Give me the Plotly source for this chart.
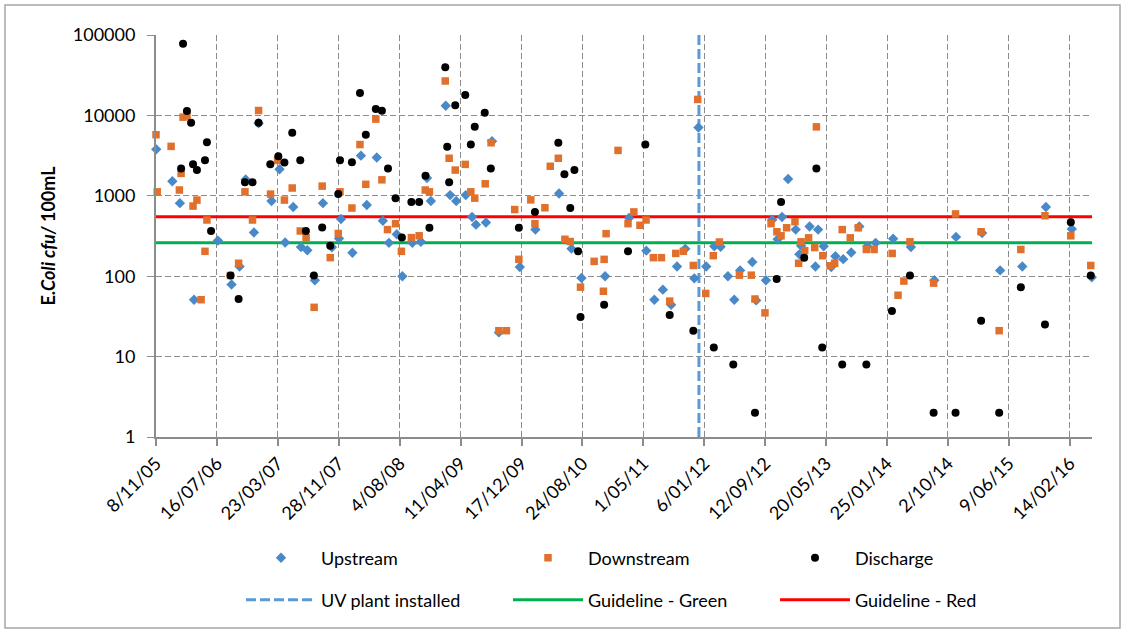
import pandas as pd
import plotly.graph_objects as go

# ---- data: Excel serial dates (days since 1899-12-30) and E. coli (cfu/100mL) ----
up_dates = [38665, 38731, 38762, 38820, 38918, 38974, 39007, 39032, 39066, 39085,
            39138, 39171, 39194, 39227, 39259, 39285, 39316, 39349, 39386, 39415,
            39423, 39470, 39505, 39529, 39570, 39595, 39620, 39652, 39675, 39716,
            39751, 39776, 39792, 39853, 39871, 39896, 39935, 39961, 39977, 40018,
            40043, 40071, 40157, 40221, 40318, 40369, 40410, 40507, 40605, 40676,
            40709, 40744, 40778, 40802, 40836, 40873, 40890, 40922, 40955, 40981,
            41011, 41037, 41061, 41111, 41127, 41167, 41193, 41215, 41233, 41258,
            41289, 41304, 41311, 41346, 41370, 41381, 41404, 41435, 41452, 41484,
            41517, 41550, 41583, 41617, 41689, 41762, 41858, 41947, 42054, 42128,
            42219, 42316, 42422, 42504]
up_vals = [3780, 1515, 810, 51, 277, 79, 132, 1600, 350, 8000,
           860, 2140, 263, 725, 230, 210, 89, 810, 229, 294,
           515, 196, 3160, 768, 3000, 490, 260, 332, 100, 260,
           268, 1660, 860, 13200, 1020, 860, 1020, 546, 438, 465,
           4760, 20, 130, 380, 1070, 220, 95, 100, 530, 208,
           51, 68, 44, 132, 219, 94, 7060, 132, 235, 232,
           100, 51, 118, 150, 50, 89, 505, 288, 546, 1620,
           380, 187, 240, 415, 132, 380, 235, 130, 177, 163,
           197, 415, 235, 260, 293, 230, 89, 308, 345, 118,
           132, 725, 387, 97]

down_dates = [38664, 38669, 38726, 38760, 38767, 38775, 38791, 38816, 38832, 38849,
              38865, 38873, 38969, 39003, 39029, 39060, 39085, 39134, 39163, 39191,
              39223, 39256, 39280, 39313, 39346, 39379, 39412, 39419, 39468, 39501,
              39525, 39566, 39591, 39614, 39647, 39671, 39712, 39744, 39769, 39786,
              39851, 39867, 39892, 39933, 39956, 39972, 40015, 40039, 40071, 40102,
              40136, 40153, 40202, 40219, 40260, 40282, 40315, 40342, 40364, 40406,
              40462, 40500, 40503, 40511, 40560, 40601, 40625, 40650, 40675, 40705,
              40738, 40772, 40797, 40828, 40869, 40887, 40920, 40951, 40976, 41058,
              41107, 41122, 41163, 41188, 41212, 41229, 41252, 41286, 41301, 41311,
              41326, 41342, 41367, 41374, 41400, 41431, 41449, 41480, 41513, 41546,
              41579, 41611, 41685, 41709, 41733, 41758, 41855, 41945, 42050, 42124,
              42213, 42312, 42418, 42500]
down_vals = [5750, 1120, 4120, 1180, 1900, 9500, 9800, 745, 885, 51,
             204, 500, 102, 145, 1120, 500, 11500, 1050, 2760, 885,
             1250, 365, 300, 41, 1320, 170, 340, 1120, 705, 4340,
             1390, 9000, 1580, 380, 450, 204, 302, 318, 1180, 1120,
             26800, 2930, 2090, 2460, 1120, 935, 1410, 4570, 21, 21,
             675, 162, 890, 450, 710, 2330, 2930, 288, 270, 73,
             153, 65, 162, 338, 3670, 450, 630, 430, 500, 170,
             170, 49, 192, 204, 136, 15800, 61, 180, 266, 103,
             103, 52, 35, 450, 357, 318, 400, 477, 145, 268,
             208, 300, 227, 7200, 180, 135, 145, 380, 300, 400,
             215, 215, 192, 58, 87, 268, 82, 595, 357, 21,
             215, 565, 318, 136]

dis_dates = [38767, 38775, 38791, 38808, 38816, 38832, 38865, 38873, 38890, 38970,
             39003, 39029, 39060, 39085, 39133, 39166, 39191, 39223, 39256, 39279,
             39312, 39346, 39379, 39412, 39419, 39468, 39501, 39525, 39566, 39591,
             39616, 39647, 39673, 39712, 39744, 39770, 39786, 39851, 39859, 39867,
             39892, 39933, 39956, 39972, 40013, 40038, 40153, 40219, 40315, 40340,
             40364, 40381, 40396, 40406, 40503, 40601, 40672, 40772, 40869, 40953,
             41033, 41122, 41211, 41229, 41324, 41374, 41398, 41480, 41579, 41684,
             41758, 41855, 41945, 42050, 42124, 42213, 42312, 42418, 42500]
dis_vals = [2190, 78000, 11350, 8100, 2460, 2090, 2760, 4620, 365, 102,
            52, 1475, 1475, 8100, 2460, 3100, 2600, 6100, 2760, 365,
            102, 402, 240, 1050, 2760, 2610, 19000, 5750, 12000, 11400,
            2190, 935, 302, 835, 835, 1770, 400, 39700, 4070, 1475,
            13400, 17900, 4350, 7200, 10800, 2190, 400, 630, 4570, 1860,
            705, 2090, 204, 31, 44, 204, 4340, 33, 21, 13,
            8, 2, 92, 835, 170, 2190, 13, 8, 8, 37,
            102, 2, 2, 28, 2, 73, 25, 470, 102]

uv_plant_date = 40892          # 15/12/2011
guideline_green = 260
guideline_red = 550

x_axis_start = 38664           # 8/11/05
x_axis_end = 42505
x_tick_step = 250
x_tick_labels = ["8/11/05", "16/07/06", "23/03/07", "28/11/07", "4/08/08",
                 "11/04/09", "17/12/09", "24/08/10", "1/05/11", "6/01/12",
                 "12/09/12", "20/05/13", "25/01/14", "2/10/14", "9/06/15",
                 "14/02/16"]
y_tick_vals = [1, 10, 100, 1000, 10000, 100000]
y_tick_labels = ["1", "10", "100", "1000", "10000", "100000"]


def to_dt(serial):
    return pd.to_datetime(pd.Series(serial), unit="D", origin="1899-12-30")


FONT = "Lato"
GRID = "#8c8c8c"
BLUE = "#4a89c8"
ORANGE = "#e0702b"

x0 = to_dt([x_axis_start])[0]
x1 = to_dt([x_axis_end])[0]
tick_vals = to_dt([x_axis_start + i * x_tick_step for i in range(len(x_tick_labels))])

fig = go.Figure()

# guideline / event lines (drawn first so markers sit on top)
fig.add_trace(go.Scatter(
    x=[to_dt([uv_plant_date])[0]] * 2, y=[y_tick_vals[0], y_tick_vals[-1]],
    mode="lines", name="UV plant installed", legend="legend2",
    line=dict(color="#5b9bd5", width=3, dash="10px,4px"), hoverinfo="skip"))
fig.add_trace(go.Scatter(
    x=[x0, x1], y=[guideline_green] * 2, mode="lines", name="Guideline - Green",
    legend="legend2", line=dict(color="#00b050", width=3), hoverinfo="skip"))
fig.add_trace(go.Scatter(
    x=[x0, x1], y=[guideline_red] * 2, mode="lines", name="Guideline - Red",
    legend="legend2", line=dict(color="#ff0000", width=3), hoverinfo="skip"))

fig.add_trace(go.Scatter(
    x=to_dt(up_dates), y=up_vals, mode="markers", name="Upstream", legend="legend",
    marker=dict(symbol="diamond", size=8, color=BLUE, line=dict(width=0)),
    cliponaxis=False))
fig.add_trace(go.Scatter(
    x=to_dt(down_dates), y=down_vals, mode="markers", name="Downstream", legend="legend",
    marker=dict(symbol="square", size=7.5, color=ORANGE, line=dict(width=0)),
    cliponaxis=False))
fig.add_trace(go.Scatter(
    x=to_dt(dis_dates), y=dis_vals, mode="markers", name="Discharge", legend="legend",
    marker=dict(symbol="circle", size=8, color="black", line=dict(width=0)),
    cliponaxis=False))

W, H = 1125, 633
ml, mr, mt, mb = 156, 33, 35, 196
pw, ph = W - ml - mr, H - mt - mb


def px_x(p):
    return (p - ml) / pw


def px_y(p):
    return (H - mb - p) / ph


legend_common = dict(
    orientation="h", xanchor="left", yanchor="middle",
    font=dict(family=FONT, size=18, color="black"),
    itemwidth=70, entrywidth=182, entrywidthmode="pixels",
    bgcolor="rgba(0,0,0,0)", itemclick=False, itemdoubleclick=False,
)

fig.update_layout(
    width=W, height=H,
    margin=dict(l=ml, r=mr, t=mt, b=mb, pad=0),
    paper_bgcolor="white", plot_bgcolor="white",
    font=dict(family=FONT, size=18, color="black"),
    showlegend=True,
    legend=dict(x=px_x(241), y=px_y(558), **legend_common),
    legend2=dict(x=px_x(241), y=px_y(600), **legend_common),
    xaxis=dict(
        type="date", range=[x0, x1],
        tickmode="array", tickvals=tick_vals, ticktext=x_tick_labels,
        tickangle=-45, tickfont=dict(family=FONT, size=18, color="black"),
        ticks="outside", ticklen=7, tickwidth=1.5, tickcolor=GRID,
        showline=True, linecolor=GRID, linewidth=2,
        showgrid=True, gridcolor=GRID, gridwidth=1.3, griddash="6px,3px",
        zeroline=False,
    ),
    yaxis=dict(
        type="log", range=[0, 5],
        tickmode="array", tickvals=y_tick_vals, ticktext=y_tick_labels,
        tickfont=dict(family=FONT, size=18, color="black"),
        ticks="outside", ticklen=7, tickwidth=1.3, tickcolor=GRID,
        ticklabelstandoff=8,
        showline=True, linecolor=GRID, linewidth=2,
        showgrid=True, gridcolor=GRID, gridwidth=1.3, griddash="6px,3px",
        zeroline=False,
        title=dict(text="<b>E.<i>Coli cfu/</i> 100mL</b>",
                   font=dict(family=FONT, size=18, color="black"), standoff=12),
    ),
    shapes=[dict(type="rect", xref="paper", yref="paper",
                 x0=px_x(5), x1=px_x(1120), y0=px_y(628), y1=px_y(5),
                 line=dict(color="#a6a6a6", width=1.5), fillcolor="rgba(0,0,0,0)",
                 layer="below")],
)

fig.write_html("out.html")
